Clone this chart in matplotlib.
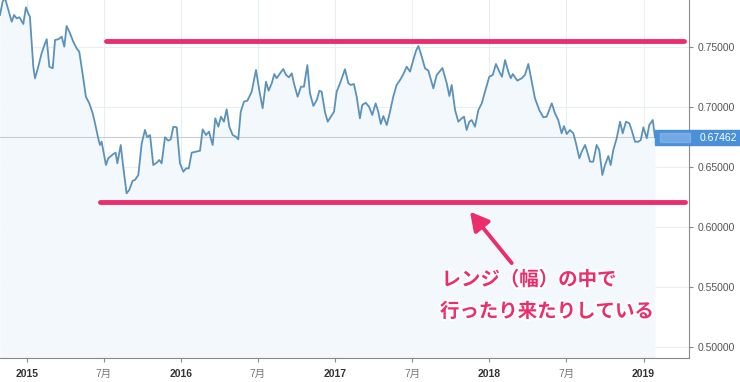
import matplotlib.pyplot as plt
import matplotlib.patheffects as pe
from matplotlib.patches import Rectangle

plt.rcParams['font.family'] = ['Liberation Sans', 'Noto Sans CJK JP', 'DejaVu Sans']

# time in decimal years, weekly-ish closes
t = [2014.827, 2014.844, 2014.859, 2014.881, 2014.903, 2014.918, 2014.935, 2014.952, 2014.961, 2014.978,
     2014.995, 2015.010, 2015.021, 2015.043, 2015.054, 2015.075, 2015.097, 2015.119, 2015.130, 2015.147,
     2015.169, 2015.184, 2015.205, 2015.227, 2015.244, 2015.259, 2015.281, 2015.302, 2015.324, 2015.341,
     2015.367, 2015.384, 2015.406, 2015.428, 2015.443, 2015.464, 2015.475, 2015.486, 2015.514, 2015.529,
     2015.562, 2015.577, 2015.588, 2015.610, 2015.626, 2015.648, 2015.665, 2015.687, 2015.702, 2015.724,
     2015.746, 2015.767, 2015.782, 2015.800, 2015.821, 2015.843, 2015.860, 2015.875, 2015.897, 2015.918,
     2015.934, 2015.951, 2015.973, 2015.994, 2016.016, 2016.033, 2016.051, 2016.070, 2016.098, 2016.124,
     2016.141, 2016.163, 2016.182, 2016.206, 2016.223, 2016.243, 2016.260, 2016.279, 2016.297, 2016.314,
     2016.336, 2016.357, 2016.372, 2016.388, 2016.409, 2016.431, 2016.459, 2016.487, 2016.508, 2016.530,
     2016.552, 2016.569, 2016.589, 2016.606, 2016.621, 2016.643, 2016.664, 2016.682, 2016.701, 2016.719,
     2016.733, 2016.757, 2016.779, 2016.798, 2016.820, 2016.837, 2016.859, 2016.881, 2016.898, 2016.913,
     2016.934, 2016.952, 2016.973, 2016.993, 2017.010, 2017.032, 2017.064, 2017.086, 2017.101, 2017.122,
     2017.140, 2017.161, 2017.176, 2017.198, 2017.220, 2017.241, 2017.263, 2017.280, 2017.296, 2017.313,
     2017.335, 2017.356, 2017.377, 2017.399, 2017.421, 2017.442, 2017.464, 2017.486, 2017.507, 2017.525,
     2017.540, 2017.562, 2017.583, 2017.605, 2017.637, 2017.659, 2017.696, 2017.724, 2017.741, 2017.756,
     2017.778, 2017.799, 2017.821, 2017.836, 2017.853, 2017.870, 2017.886, 2017.907, 2017.929, 2017.951,
     2017.972, 2018.000, 2018.022, 2018.043, 2018.065, 2018.082, 2018.102, 2018.123, 2018.139, 2018.152,
     2018.182, 2018.210, 2018.231, 2018.253, 2018.275, 2018.296, 2018.324, 2018.350, 2018.372, 2018.405,
     2018.426, 2018.447, 2018.469, 2018.484, 2018.502, 2018.523, 2018.545, 2018.562, 2018.584, 2018.599,
     2018.621, 2018.635, 2018.653, 2018.674, 2018.696, 2018.713, 2018.733, 2018.750, 2018.772, 2018.787,
     2018.804, 2018.826, 2018.848, 2018.865, 2018.886, 2018.908, 2018.923, 2018.945, 2018.966, 2018.982,
     2018.999, 2019.021, 2019.037, 2019.060, 2019.074]
price = [0.7764, 0.7875, 0.7906, 0.7806, 0.7708, 0.7764, 0.7736, 0.7745, 0.7728, 0.7689,
         0.7828, 0.7778, 0.7750, 0.7333, 0.7236, 0.7333, 0.7445, 0.7528, 0.7562, 0.7333,
         0.7320, 0.7556, 0.7562, 0.7583, 0.7500, 0.7672, 0.7612, 0.7542, 0.7486, 0.7458,
         0.7236, 0.7083, 0.7028, 0.6945, 0.6862, 0.6737, 0.6681, 0.6708, 0.6514, 0.6570,
         0.6606, 0.6617, 0.6528, 0.6681, 0.6500, 0.6278, 0.6306, 0.6383, 0.6389, 0.6431,
         0.6695, 0.6806, 0.6745, 0.6764, 0.6514, 0.6533, 0.6556, 0.6528, 0.6745, 0.6717,
         0.6728, 0.6833, 0.6828, 0.6528, 0.6458, 0.6486, 0.6486, 0.6617, 0.6625, 0.6633,
         0.6811, 0.6764, 0.6792, 0.6681, 0.6903, 0.6833, 0.6917, 0.6875, 0.6978, 0.6833,
         0.6764, 0.6750, 0.6728, 0.6958, 0.7042, 0.7050, 0.7125, 0.7306, 0.7139, 0.6987,
         0.7208, 0.7133, 0.7195, 0.7272, 0.7237, 0.7278, 0.7314, 0.7264, 0.7245, 0.7278,
         0.7195, 0.7083, 0.7167, 0.7167, 0.7347, 0.7112, 0.7006, 0.7056, 0.7133, 0.7125,
         0.6958, 0.6875, 0.6917, 0.6958, 0.7125, 0.7195, 0.7312, 0.7195, 0.7181, 0.7189,
         0.7083, 0.6903, 0.7014, 0.7033, 0.7000, 0.6931, 0.7028, 0.6958, 0.6856, 0.6922,
         0.6847, 0.6958, 0.7083, 0.7181, 0.7222, 0.7270, 0.7333, 0.7292, 0.7389, 0.7467,
         0.7506, 0.7417, 0.7320, 0.7300, 0.7153, 0.7264, 0.7322, 0.7195, 0.7089, 0.7181,
         0.6972, 0.6875, 0.6903, 0.6917, 0.6806, 0.6875, 0.6889, 0.6833, 0.6972, 0.7028,
         0.7125, 0.7250, 0.7264, 0.7356, 0.7292, 0.7250, 0.7389, 0.7292, 0.7237, 0.7272,
         0.7217, 0.7237, 0.7264, 0.7356, 0.7208, 0.7070, 0.6972, 0.6912, 0.6917, 0.7028,
         0.6945, 0.6889, 0.6778, 0.6839, 0.6772, 0.6806, 0.6778, 0.6695, 0.6570, 0.6625,
         0.6681, 0.6625, 0.6542, 0.6542, 0.6681, 0.6639, 0.6431, 0.6514, 0.6589, 0.6514,
         0.6639, 0.6737, 0.6875, 0.6778, 0.6875, 0.6862, 0.6806, 0.6708, 0.6708, 0.6722,
         0.6828, 0.6737, 0.6847, 0.6889, 0.67462]

last_price = 0.67462
range_high = 0.755
range_low = 0.6208
high_span = (2015.514, 2019.263)
low_span = (2015.475, 2019.269)

x_ticks = [2015, 2015.5, 2016, 2016.5, 2017, 2017.5, 2018, 2018.5, 2019]
x_labels = ['2015', '7月', '2016', '7月', '2017', '7月', '2018', '7月', '2019']
y_ticks = [0.50, 0.55, 0.60, 0.65, 0.70, 0.75]

pink = '#ec2d6b'
blue_line = '#5b92bb'

fig = plt.figure(figsize=(7.4, 3.82), dpi=100)
ax = fig.add_axes([0, 0.0628, 0.9311, 0.9372])
xmin, xmax = 2014.827, 2019.295
ymin, ymax = 0.4906, 0.7889
ax.set_xlim(xmin, xmax)
ax.set_ylim(ymin, ymax)

# grid
for xv in x_ticks:
    ax.axvline(xv, color='#e9eef3', lw=0.8, zorder=0)
for yv in y_ticks:
    ax.axhline(yv, color='#e9eef3', lw=0.8, zorder=0)

# price line with light fill
ax.fill_between(t, price, ymin, color='#f2f8fc', zorder=1, lw=0)
ax.plot(t, price, color=blue_line, lw=1.3, zorder=3)
ax.axhline(last_price, color='#c9cdd1', lw=0.8, zorder=2)

# range lines
ax.plot(high_span, [range_high, range_high], color=pink, lw=3.5, solid_capstyle='round', zorder=4)
ax.plot(low_span, [range_low, range_low], color=pink, lw=3.5, solid_capstyle='round', zorder=4)

# arrow + note
ax.annotate('', xy=(2017.875, 0.6125), xytext=(2018.145, 0.5697),
            arrowprops=dict(arrowstyle='-|>,head_length=1.1,head_width=0.6', color=pink, lw=2.8,
                            shrinkA=0, shrinkB=0), zorder=5)
note_fx = [pe.withStroke(linewidth=3, foreground='white')]
ax.text(2017.69, 0.5556, 'レンジ（幅）の中で', color=pink, fontsize=14, fontweight='bold',
        family=['Noto Sans CJK JP'], ha='left', va='center', path_effects=note_fx, zorder=6)
ax.text(2017.68, 0.5292, '行ったり来たりしている', color=pink, fontsize=14, fontweight='bold',
        family=['Noto Sans CJK JP'], ha='left', va='center', path_effects=note_fx, zorder=6)

# axes styling
for s in ['top', 'left']:
    ax.spines[s].set_visible(False)
ax.spines['right'].set_color('#8a8a8a')
ax.spines['bottom'].set_color('#8a8a8a')
ax.yaxis.tick_right()
ax.set_yticks(y_ticks)
ax.set_yticklabels([f'{v:.5f}' for v in y_ticks])
ax.tick_params(axis='y', colors='#8a8a8a', labelcolor='#555555', labelsize=7.5, length=3, pad=3)
ax.set_xticks(x_ticks)
ax.set_xticklabels(x_labels)
ax.tick_params(axis='x', colors='#8a8a8a', length=3, pad=5, labelsize=7.5)
for lbl, txt in zip(ax.get_xticklabels(), x_labels):
    if txt.endswith('月'):
        lbl.set_color('#777777')
    else:
        lbl.set_color('#333333')
        lbl.set_fontweight('bold')

# last price tag
fig.patches.append(Rectangle((655 / 740, 1 - 145 / 382), 85 / 740, 15 / 382,
                             transform=fig.transFigure, color='#4a90d9', zorder=10))
fig.patches.append(Rectangle((660 / 740, 1 - 142 / 382), 30 / 740, 9 / 382,
                             transform=fig.transFigure, color='#8fbbe9', alpha=0.6, zorder=11))
fig.text(700 / 740, 1 - 137.5 / 382, f'{last_price:.5f}', color='white', fontsize=7.5,
         ha='left', va='center', zorder=12)

fig.savefig('out.png', dpi=100)
